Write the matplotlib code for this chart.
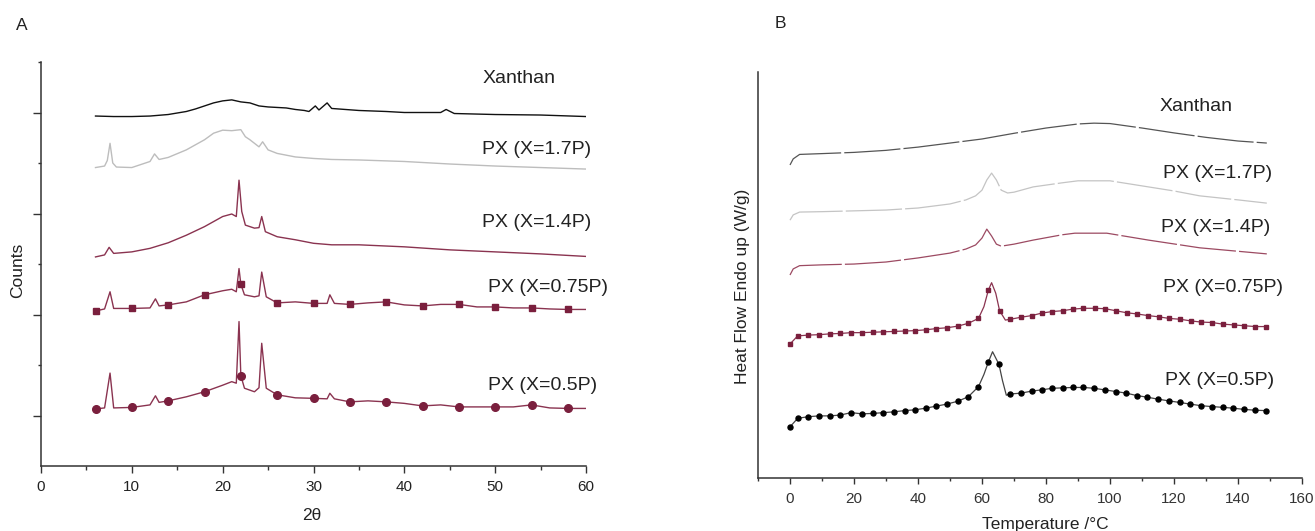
import numpy as np
import matplotlib
matplotlib.use("Agg")
import matplotlib.pyplot as plt

plt.rcParams['font.family'] = ['Liberation Sans', 'DejaVu Sans']

# ---- panel A : XRD patterns (2theta, counts a.u.) ----
tt_xan = [6, 8, 10, 12, 14, 16, 17, 18, 19, 20, 21, 22, 23, 24, 25, 26, 27, 28, 29, 29.5,
          30.2, 30.6, 31.5, 32, 35, 38, 40, 44, 44.6, 45.5, 50, 55, 60]
c_xan = [6.93, 6.92, 6.92, 6.93, 6.96, 7.02, 7.07, 7.13, 7.19, 7.23, 7.25, 7.21, 7.19, 7.13, 7.11,
         7.10, 7.09, 7.06, 7.04, 7.02, 7.13, 7.05, 7.19, 7.08, 7.04, 7.02, 7.00, 7.00, 7.06, 6.98,
         6.96, 6.95, 6.92]

tt_17 = [6, 7, 7.3, 7.6, 7.9, 8.3, 10, 12, 12.5, 13, 14, 16, 18, 19, 20, 21, 22, 22.5, 23, 24,
         24.4, 25, 26, 28, 30, 32, 35, 40, 45, 50, 55, 60]
c_17 = [5.91, 5.94, 6.05, 6.39, 6.00, 5.92, 5.91, 6.03, 6.18, 6.07, 6.11, 6.26, 6.46, 6.59, 6.65,
        6.64, 6.66, 6.52, 6.46, 6.32, 6.42, 6.26, 6.19, 6.12, 6.09, 6.07, 6.06, 6.03, 5.98, 5.94,
        5.91, 5.88]

tt_14 = [6, 7, 7.5, 8, 10, 12, 14, 16, 18, 20, 21, 21.5, 21.8, 22.1, 22.5, 23.5, 24.0, 24.3, 24.7,
         26, 28, 30, 32, 35, 40, 45, 50, 55, 60]
c_14 = [4.14, 4.18, 4.33, 4.21, 4.24, 4.31, 4.42, 4.57, 4.74, 4.94, 4.99, 4.94, 5.66, 5.04, 4.77,
        4.71, 4.72, 4.94, 4.64, 4.54, 4.48, 4.41, 4.38, 4.38, 4.34, 4.28, 4.24, 4.20, 4.15]

tt_low = [6, 7, 7.6, 8, 10, 12, 12.6, 13, 14, 16, 18, 20, 21, 21.5, 21.8, 22, 22.4, 23.5, 24.0, 24.3,
          24.8, 26, 28, 30, 31.5, 31.8, 32.3, 34, 36, 38, 40, 42, 44, 46, 48, 50, 52, 54, 56, 58, 60]
c_075 = [3.07, 3.11, 3.45, 3.12, 3.12, 3.13, 3.31, 3.17, 3.19, 3.25, 3.39, 3.47, 3.50, 3.45, 3.91,
         3.60, 3.39, 3.35, 3.37, 3.84, 3.35, 3.23, 3.25, 3.22, 3.22, 3.39, 3.22, 3.20, 3.23, 3.25,
         3.19, 3.17, 3.20, 3.20, 3.15, 3.15, 3.13, 3.13, 3.11, 3.10, 3.10]
c_05 = [1.13, 1.15, 1.84, 1.15, 1.16, 1.21, 1.39, 1.26, 1.29, 1.37, 1.47, 1.60, 1.67, 1.64, 2.86,
        1.79, 1.54, 1.47, 1.55, 2.43, 1.54, 1.41, 1.35, 1.34, 1.33, 1.44, 1.33, 1.27, 1.29, 1.27,
        1.24, 1.19, 1.21, 1.17, 1.17, 1.17, 1.17, 1.21, 1.15, 1.14, 1.14]
tt_marks = [6, 10, 14, 18, 22, 26, 30, 34, 38, 42, 46, 50, 54, 58]

labels = ['Xanthan', 'PX (X=1.7P)', 'PX (X=1.4P)', 'PX (X=0.75P)', 'PX (X=0.5P)']

# ---- panel B : DSC curves (T, heat flow a.u.) ----
T_xan = [0, 1, 3, 10, 20, 30, 40, 50, 60, 70, 80, 90, 95, 100, 110, 120, 130, 140, 149]
hf_xan = [7.71, 7.86, 7.97, 7.99, 8.02, 8.07, 8.15, 8.25, 8.35, 8.49, 8.62, 8.72, 8.74, 8.73,
          8.62, 8.50, 8.39, 8.30, 8.25]

T_17 = [0, 1, 3, 10, 20, 30, 40, 50, 55, 58, 60, 61.5, 63, 64.5, 66, 68, 70, 76, 85, 90, 100,
        112, 120, 128, 140, 149]
hf_17 = [6.35, 6.48, 6.55, 6.56, 6.58, 6.60, 6.65, 6.75, 6.85, 6.95, 7.09, 7.34, 7.51, 7.34, 7.09,
         7.02, 7.04, 7.17, 7.27, 7.32, 7.32, 7.17, 7.07, 6.95, 6.85, 6.77]

T_14 = [0, 1, 3, 10, 20, 30, 40, 50, 55, 58, 60, 61.5, 63, 64.5, 66, 70, 76, 85, 89, 99, 112,
        128, 149]
hf_14 = [5.00, 5.15, 5.23, 5.25, 5.27, 5.32, 5.42, 5.54, 5.64, 5.74, 5.91, 6.13, 5.96, 5.76, 5.71,
         5.76, 5.86, 5.99, 6.03, 6.03, 5.86, 5.67, 5.52]

T_075 = [0, 2.4, 5.7, 9.1, 12.4, 15.7, 19.1, 22.5, 25.8, 29.2, 32.5, 35.8, 39.1, 42.4, 45.7, 49.0,
         52.4, 55.7, 58.9, 62.0, 65.5, 68.9, 72.2, 75.5, 78.6, 81.9, 85.2, 88.4, 91.7, 95.2, 98.5,
         101.8, 105.2, 108.5, 111.9, 115.2, 118.5, 121.9, 125.2, 128.5, 131.9, 135.2, 138.7, 142.0,
         145.4, 148.7]
hf_075 = [3.30, 3.50, 3.52, 3.53, 3.55, 3.56, 3.58, 3.58, 3.59, 3.60, 3.61, 3.62, 3.63, 3.65, 3.68,
          3.70, 3.74, 3.81, 3.93, 4.63, 4.12, 3.91, 3.96, 4.00, 4.06, 4.10, 4.12, 4.16, 4.18, 4.18,
          4.17, 4.12, 4.07, 4.04, 4.00, 3.97, 3.93, 3.91, 3.87, 3.84, 3.83, 3.79, 3.77, 3.75, 3.73,
          3.73]
T_075_pk = [60.6, 63.0, 64.3, 67.3]
hf_075_pk = [4.22, 4.81, 4.55, 3.89]

T_05 = [0, 2.4, 5.7, 9.1, 12.4, 15.7, 19.1, 22.5, 25.8, 29.2, 32.5, 35.8, 39.1, 42.4, 45.7, 49.0,
        52.4, 55.7, 58.9, 62.0, 65.3, 68.9, 72.2, 75.5, 78.6, 81.9, 85.2, 88.4, 91.7, 95.0, 98.4,
        101.8, 105.1, 108.4, 111.7, 115.1, 118.4, 121.8, 125.1, 128.5, 131.8, 135.2, 138.5, 141.9,
        145.3, 148.6]
hf_05 = [1.26, 1.47, 1.51, 1.53, 1.53, 1.55, 1.61, 1.58, 1.59, 1.61, 1.63, 1.66, 1.68, 1.72, 1.77,
         1.82, 1.89, 2.00, 2.25, 2.86, 2.80, 2.07, 2.09, 2.14, 2.17, 2.21, 2.22, 2.23, 2.23, 2.21,
         2.17, 2.13, 2.09, 2.03, 1.99, 1.94, 1.90, 1.86, 1.82, 1.78, 1.76, 1.74, 1.72, 1.69, 1.67,
         1.66]
T_05_pk = [60.6, 63.3, 66.4, 67.6]
hf_05_pk = [2.55, 3.11, 2.40, 2.04]

maroon = '#7a1f3d'
maroon_l = '#8a3350'

fig = plt.figure(figsize=(13.15, 5.31), dpi=100)
W, H = 1315.0, 531.0


def px(x, y):
    return x / W, 1 - y / H


def style_axes(ax):
    for s in ['top', 'right']:
        ax.spines[s].set_visible(False)
    for s in ['left', 'bottom']:
        ax.spines[s].set_linewidth(1.1)
        ax.spines[s].set_color('#333333')


# ---------------- panel A ----------------
axA = fig.add_axes([41 / W, 1 - 466 / H, 545 / W, 404 / H])
style_axes(axA)
axA.plot(tt_xan, c_xan, color='#111111', lw=1.0)
axA.plot(tt_17, c_17, color='#bdbdbd', lw=1.0)
axA.plot(tt_14, c_14, color=maroon_l, lw=1.0)
mk = np.isin(tt_low, tt_marks)
axA.plot(tt_low, c_075, color=maroon_l, lw=1.0)
axA.plot(np.array(tt_low)[mk], np.array(c_075)[mk], ls='none', marker='s', ms=5, color=maroon)
axA.plot(tt_low, c_05, color=maroon_l, lw=1.0)
axA.plot(np.array(tt_low)[mk], np.array(c_05)[mk], ls='none', marker='o', ms=5.5, color=maroon)

axA.set_xlim(0, 60)
axA.set_ylim(0, 8)
axA.set_xticks(range(0, 61, 10))
axA.set_xticks(range(5, 60, 10), minor=True)
axA.set_yticks([1, 3, 5, 7])
axA.set_yticks([2, 4, 6, 8], minor=True)
axA.set_yticklabels([])
axA.tick_params(axis='x', which='major', length=5, width=1, labelsize=11, pad=5, colors='#333333')
axA.tick_params(axis='x', which='minor', length=3, width=1, colors='#333333')
axA.tick_params(axis='y', which='major', length=6, width=1, colors='#333333')
axA.tick_params(axis='y', which='minor', length=2.5, width=1, colors='#333333')
for lab in axA.get_xticklabels():
    lab.set_color('#222222')

ya = [7.68, 6.26, 4.83, 3.54, 1.60]
for lab, y in zip(labels, ya):
    axA.text(48.6 if '0.' not in lab else 49.2, y, lab, fontsize=14, va='center', ha='left',
             color='#222222')

fig.text(*px(22, 25), 'A', fontsize=12.5, ha='center', va='center', color='#222222')
fig.text(*px(18, 270), 'Counts', fontsize=12.5, rotation=90, ha='center', va='center',
         color='#222222')
fig.text(*px(312, 515), '2θ', fontsize=12.5, ha='center', va='center', color='#222222')

# ---------------- panel B ----------------
axB = fig.add_axes([758 / W, 1 - 478 / H, 544 / W, 406 / H])
style_axes(axB)
axB.plot(T_xan, hf_xan, color='#555555', lw=0.9, dashes=(45, 2.5))
axB.plot(T_17, hf_17, color='#c4c4c4', lw=0.9, dashes=(45, 2.5))
axB.plot(T_14, hf_14, color='#9c4a62', lw=0.9, dashes=(45, 2.5))

o = np.argsort(T_075 + T_075_pk)
axB.plot(np.array(T_075 + T_075_pk)[o], np.array(hf_075 + hf_075_pk)[o], color=maroon_l, lw=0.9)
axB.plot(T_075, hf_075, ls='none', marker='s', ms=3, color=maroon)
o = np.argsort(T_05 + T_05_pk)
axB.plot(np.array(T_05 + T_05_pk)[o], np.array(hf_05 + hf_05_pk)[o], color='#444444', lw=0.9)
axB.plot(T_05, hf_05, ls='none', marker='o', ms=3.6, color='black')

axB.set_xlim(-10, 160)
axB.set_ylim(0, 10)
axB.set_xticks(range(0, 161, 20))
axB.set_xticks(range(-10, 160, 20), minor=True)
axB.set_yticks([])
axB.tick_params(axis='x', which='major', length=4, width=1, labelsize=11, pad=6, colors='#333333')
axB.tick_params(axis='x', which='minor', length=2.5, width=1, colors='#333333')

yb = [9.14, 7.51, 6.16, 4.68, 2.41]
xb = [115.6, 116.6, 115.9, 116.6, 117.2]
for lab, x, y in zip(labels, xb, yb):
    axB.text(x, y, lab, fontsize=14, va='center', ha='left', color='#222222')

fig.text(*px(780, 24), 'B', fontsize=12.5, ha='center', va='center', color='#222222')
fig.text(*px(742, 286), 'Heat Flow Endo up (W/g)', fontsize=12.5, rotation=90, ha='center',
         va='center', color='#222222')
fig.text(*px(1045, 524), 'Temperature /°C', fontsize=12.5, ha='center', va='center',
         color='#222222')

fig.savefig('out.png', dpi=100)
